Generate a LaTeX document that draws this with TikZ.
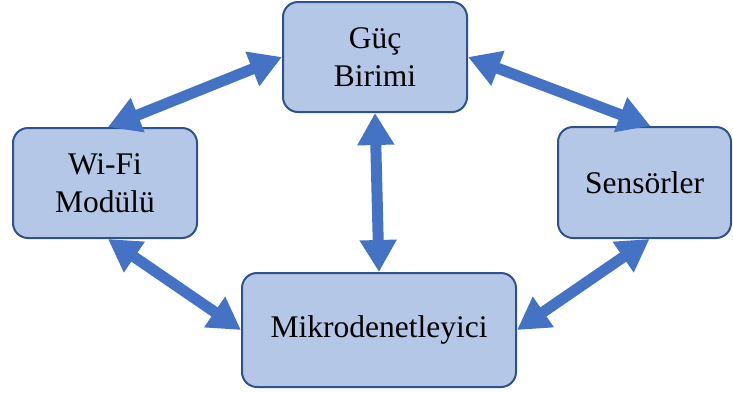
\documentclass[tikz,border=0pt]{standalone}
\usepackage{fontspec}
\setmainfont{Liberation Serif}
\usetikzlibrary{arrows.meta}
\definecolor{boxfill}{HTML}{B4C7E7}
\definecolor{boxline}{HTML}{2F528F}
\definecolor{arrowblue}{HTML}{4472C4}
\begin{document}
\begin{tikzpicture}[x=1pt, y=-1pt,
		block/.style={draw=boxline, fill=boxfill, line width=2pt, rounded corners=15pt, align=center, inner sep=0pt, font=\fontsize{31.5}{38}\selectfont},
		link/.style={arrowblue, line width=11pt, {Triangle[width=35pt,length=32pt]}-{Triangle[width=35pt,length=32pt]}}]
		\useasboundingbox (0,0) rectangle (733,392);
		\node[block, minimum width=184pt, minimum height=110pt] (guc) at (375,57) {Güç\\Birimi};
		\node[block, minimum width=184pt, minimum height=110pt] (wifi) at (105,183) {Wi-Fi\\Modülü};
		\node[block, minimum width=173pt, minimum height=111pt] (sensor) at (644.5,182.5) {Sensörler};
		\node[block, minimum width=274pt, minimum height=114pt] (mikro) at (379,330) {Mikrodenetleyici};
		\draw[link] (guc.west) -- ([xshift=3pt]wifi.north);
		\draw[link] (guc.east) -- ([xshift=6pt]sensor.north);
		\draw[link] (guc.south) -- (mikro.north);
		\draw[link] ([xshift=3pt]wifi.south) -- (mikro.west);
		\draw[link] ([xshift=5pt]sensor.south) -- (mikro.east);
	\end{tikzpicture}
\end{document}
